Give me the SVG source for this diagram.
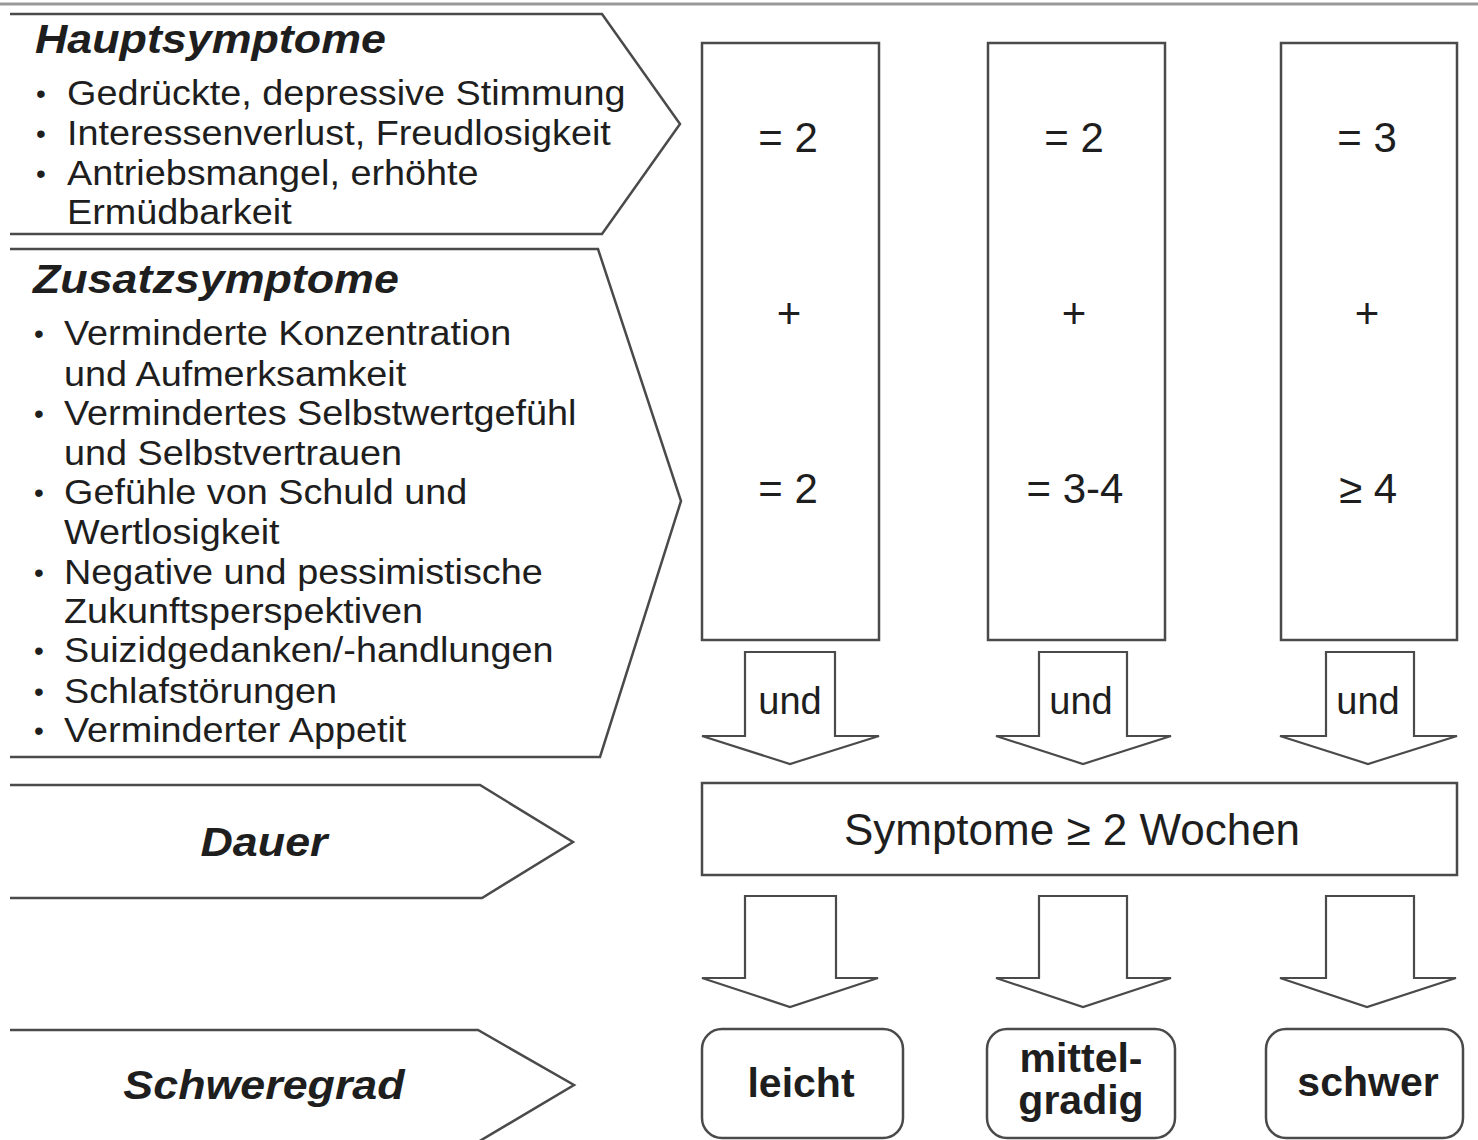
<svg xmlns="http://www.w3.org/2000/svg" width="1478" height="1140" viewBox="0 0 1478 1140">
<style>
text{font-family:"Liberation Sans",Arial,sans-serif;fill:#1e1e1e}
.shape{fill:#fff;stroke:#4a4a4a;stroke-width:2.5;stroke-linejoin:miter}
.box{fill:#fff;stroke:#4a4a4a;stroke-width:2.5}
.arrow{fill:#fff;stroke:#4a4a4a;stroke-width:2.2;stroke-linejoin:miter}
.body{font-size:35px}
.bul{font-size:28px}
.title{font-size:40px;font-weight:bold;font-style:italic}
.num{font-size:42px;text-anchor:middle}
.und{font-size:38px;text-anchor:middle}
.sym{font-size:44px;text-anchor:middle}
.sev{font-size:41px;font-weight:bold;text-anchor:middle}
</style>
<rect width="1478" height="1140" fill="#fff"/>
<line x1="0" y1="4" x2="1478" y2="4" stroke="#9a9a9a" stroke-width="3"/>

<g id="hauptsymptome">
<path class="shape" d="M10,14 L602,14 L680,124 L602,234 L10,234"/>
<text class="title" transform="translate(35,53) scale(1.12,1)">Hauptsymptome</text>
<text class="bul" x="36" y="103">•</text>
<text class="body" transform="translate(67,105) scale(1.08,1)">Gedrückte, depressive Stimmung</text>
<text class="bul" x="36" y="143">•</text>
<text class="body" transform="translate(67,145) scale(1.08,1)">Interessenverlust, Freudlosigkeit</text>
<text class="bul" x="36" y="183">•</text>
<text class="body" transform="translate(67,185) scale(1.08,1)">Antriebsmangel, erhöhte</text>
<text class="body" transform="translate(67,224) scale(1.08,1)">Ermüdbarkeit</text>
</g>

<g id="zusatzsymptome">
<path class="shape" d="M10,249 L598,249 L681,501 L600,757 L10,757"/>
<text class="title" transform="translate(33,293) scale(1.12,1)">Zusatzsymptome</text>
<text class="bul" x="34" y="343">•</text>
<text class="body" transform="translate(64,345) scale(1.08,1)">Verminderte Konzentration</text>
<text class="body" transform="translate(64,386) scale(1.08,1)">und Aufmerksamkeit</text>
<text class="bul" x="34" y="423">•</text>
<text class="body" transform="translate(64,425) scale(1.08,1)">Vermindertes Selbstwertgefühl</text>
<text class="body" transform="translate(64,465) scale(1.08,1)">und Selbstvertrauen</text>
<text class="bul" x="34" y="502">•</text>
<text class="body" transform="translate(64,504) scale(1.08,1)">Gefühle von Schuld und</text>
<text class="body" transform="translate(64,544) scale(1.08,1)">Wertlosigkeit</text>
<text class="bul" x="34" y="582">•</text>
<text class="body" transform="translate(64,584) scale(1.08,1)">Negative und pessimistische</text>
<text class="body" transform="translate(64,623) scale(1.08,1)">Zukunftsperspektiven</text>
<text class="bul" x="34" y="660">•</text>
<text class="body" transform="translate(64,662) scale(1.08,1)">Suizidgedanken/-handlungen</text>
<text class="bul" x="34" y="701">•</text>
<text class="body" transform="translate(64,703) scale(1.08,1)">Schlafstörungen</text>
<text class="bul" x="34" y="740">•</text>
<text class="body" transform="translate(64,742) scale(1.08,1)">Verminderter Appetit</text>
</g>

<g id="dauer">
<path class="shape" d="M10,785 L480,785 L573,842 L482,898 L10,898"/>
<text class="title" text-anchor="middle" transform="translate(264,856) scale(1.12,1)">Dauer</text>
</g>

<g id="schweregrad">
<path class="shape" d="M10,1030 L478,1030 L574,1085 L478,1142"/>
<text class="title" text-anchor="middle" transform="translate(264,1099) scale(1.12,1)">Schweregrad</text>
</g>

<g id="col-leicht">
<rect class="box" x="702" y="43" width="177" height="597"/>
<text class="num" x="788" y="152">= 2</text>
<text class="num" x="789" y="328">+</text>
<text class="num" x="788" y="503">= 2</text>
</g>
<g id="col-mittel">
<rect class="box" x="988" y="43" width="177" height="597"/>
<text class="num" x="1074" y="152">= 2</text>
<text class="num" x="1074" y="328">+</text>
<text class="num" x="1075" y="503">= 3-4</text>
</g>
<g id="col-schwer">
<rect class="box" x="1281" y="43" width="176" height="597"/>
<text class="num" x="1367" y="152">= 3</text>
<text class="num" x="1367" y="328">+</text>
<text class="num" x="1368" y="503">≥ 4</text>
</g>

<g id="dauer-box">
<rect class="box" x="702" y="783" width="755" height="92"/>
<text class="sym" x="1072" y="845">Symptome ≥ 2 Wochen</text>
</g>

<g id="sev-leicht">
<rect class="box" x="702" y="1029" width="201" height="109" rx="20"/>
<text class="sev" x="801" y="1097">leicht</text>
</g>
<g id="sev-mittel">
<rect class="box" x="987" y="1029" width="188" height="109" rx="20"/>
<text class="sev" x="1081" y="1072">mittel-</text>
<text class="sev" x="1081" y="1114">gradig</text>
</g>
<g id="sev-schwer">
<rect class="box" x="1266" y="1029" width="197" height="109" rx="20"/>
<text class="sev" x="1368" y="1096">schwer</text>
</g>

<g id="connectors">
<path class="arrow" d="M745,652 L835,652 L835,736 L879,736 L790,764 L702,736 L745,736 Z"/>
<path class="arrow" d="M1039,652 L1127,652 L1127,736 L1171,736 L1083,764 L996,736 L1039,736 Z"/>
<path class="arrow" d="M1326,652 L1414,652 L1414,736 L1457,736 L1368,764 L1280,736 L1326,736 Z"/>
<text class="und" x="790" y="714">und</text>
<text class="und" x="1081" y="714">und</text>
<text class="und" x="1368" y="714">und</text>
<path class="arrow" d="M745,896 L836,896 L836,978 L878,978 L790,1007 L702,978 L745,978 Z"/>
<path class="arrow" d="M1039,896 L1127,896 L1127,978 L1171,978 L1083,1007 L996,978 L1039,978 Z"/>
<path class="arrow" d="M1326,896 L1414,896 L1414,978 L1456,978 L1367,1007 L1280,978 L1326,978 Z"/>
</g>
</svg>
